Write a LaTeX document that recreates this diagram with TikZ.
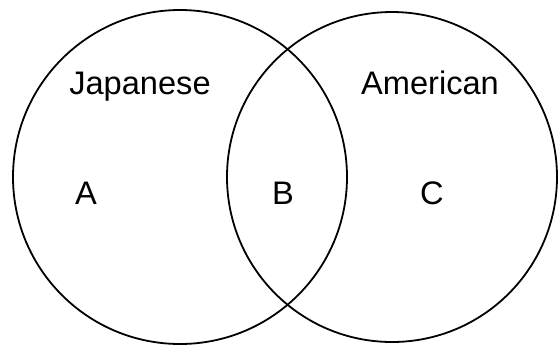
\documentclass[tikz,border=0pt]{standalone}
\usepackage{fontspec}
\setmainfont{Liberation Sans}
\usetikzlibrary{
		positioning
	}
\tikzset{
		set/.style={draw=black, line width=0.9pt},
		lbl/.style={font=\fontsize{16.3}{19}\selectfont, inner sep=0pt, anchor=base}
	}

\begin{document}
\begin{tikzpicture}[x=0.5pt, y=-0.5pt]
            \useasboundingbox (0, 0) rectangle (558, 345);

            \draw[set] (180, 177) circle (167);
            \draw[set] (392, 177) circle (165);

            \node[lbl] (japanese) at (140, 94) {Japanese};
            \node[lbl] (american) at (430, 94) {American};
            \node[lbl] (a) at (86, 204) {A};
            \node[lbl] (b) at (283, 204) {B};
            \node[lbl] (c) at (432, 204) {C};
        \end{tikzpicture}
\end{document}
